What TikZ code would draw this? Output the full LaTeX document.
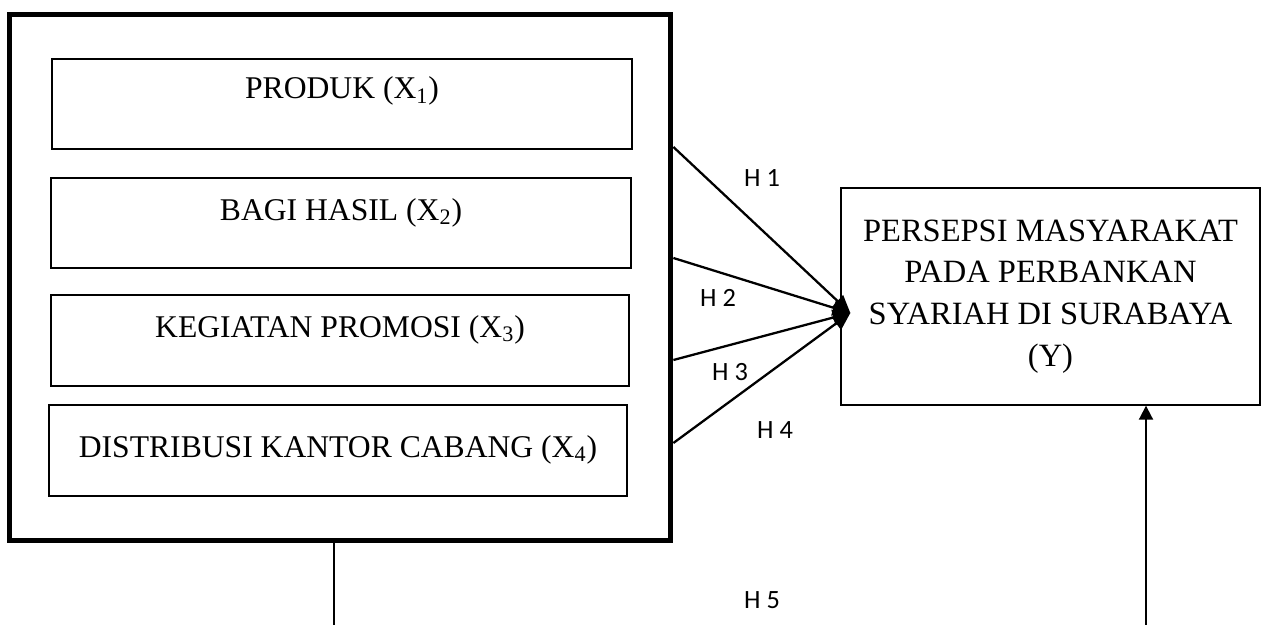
\documentclass[tikz,border=0pt]{standalone}
\usepackage{fontspec}
\setmainfont{Liberation Serif}
\newfontfamily\hfont{Carlito}
\usetikzlibrary{arrows.meta}
\begin{document}
\begin{tikzpicture}[x=0.02cm,y=-0.02cm,
varbox/.style={draw, line width=0.8pt, inner sep=0pt, font=\fontsize{18}{22}\selectfont},
hyp/.style={line width=1.3pt, -{Triangle[length=10pt,width=9pt]}},
hlab/.style={font=\hfont\fontsize{15}{18}\selectfont}]
\useasboundingbox (0,0) rectangle (1268,625);
\node[draw, line width=2.8pt, minimum width=13.24cm, minimum height=10.53cm, inner sep=0pt] (grp) at (340,277.75){};
\node[varbox, minimum width=11.6cm, text height=0.8cm, text depth=1cm] (x1) at (342,104){PRODUK (X\textsubscript{1})};
\node[varbox, minimum width=11.6cm, text height=0.84cm, text depth=0.96cm] (x2) at (341,223){BAGI HASIL (X\textsubscript{2})};
\node[varbox, minimum width=11.56cm, text height=0.84cm, text depth=0.98cm] (x3) at (340,340.5){KEGIATAN PROMOSI (X\textsubscript{3})};
\node[varbox, minimum width=11.56cm, text height=1.04cm, text depth=0.78cm] (x4) at (338,450.5){DISTRIBUSI KANTOR CABANG (X\textsubscript{4})};
\node[varbox, minimum width=8.38cm, minimum height=4.34cm, align=center, font=\fontsize{18.5}{23.8}\selectfont] (Y) at (1050.5,296.5){PERSEPSI MASYARAKAT\\PADA PERBANKAN\\SYARIAH DI SURABAYA\\(Y)};
\coordinate (s1) at (grp.east |- 0,147);
\coordinate (s2) at (grp.east |- 0,258);
\coordinate (s3) at (grp.east |- 0,360);
\coordinate (s4) at (grp.east |- 0,443);
\coordinate (tip) at ([shift={(10,16.5)}]Y.west);
\draw[hyp] (s1) -- (tip);
\draw[hyp] (s2) -- (tip);
\draw[hyp] (s3) -- (tip);
\draw[hyp] (s4) -- (tip);
\node[hlab] (h1) at (762,178){H 1};
\node[hlab] (h2) at (718,298){H 2};
\node[hlab] (h3) at (730,372){H 3};
\node[hlab] (h4) at (775,430){H 4};
\node[hlab] (h5) at (762,600){H 5};
\coordinate (b1) at (334,625);
\coordinate (b2) at (1146,625);
\draw[line width=0.8pt] (b1 |- grp.south) -- (b1);
\draw[line width=1.1pt, -{Triangle[length=8pt,width=8pt]}] (b2) -- (b2 |- Y.south);
\end{tikzpicture}
\end{document}
